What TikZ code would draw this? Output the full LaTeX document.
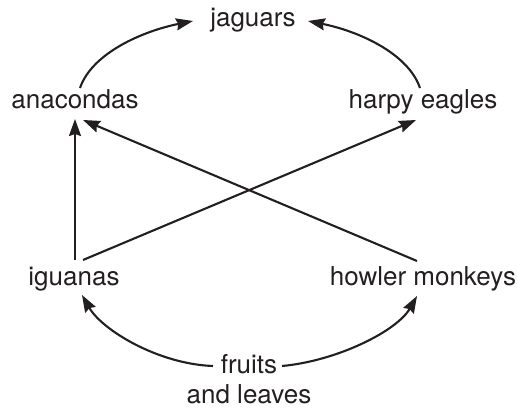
\documentclass[tikz,border=0pt]{standalone}
\usepackage{fontspec}
\setmainfont{TeX Gyre Heros}
\usetikzlibrary{arrows.meta}
\definecolor{ink}{HTML}{231F20}
\tikzset{
  lbl/.style={inner sep=0pt, anchor=base, text=ink, font=\fontsize{26}{30}\selectfont},
  arr/.style={draw=ink, line width=2.1pt, -{Stealth[length=17pt,width=12pt,inset=2pt]}}
}
\begin{document}
\begin{tikzpicture}[x=1pt,y=-1pt]
\useasboundingbox (0,0) rectangle (517,412);
\node[lbl] (jag) at (253,27) {jaguars};
\node[lbl] (ana) at (75,108) {anacondas};
\node[lbl] (har) at (423,108) {harpy eagles};
\node[lbl] (igu) at (74,285) {iguanas};
\node[lbl] (how) at (423,285) {howler monkeys};
\node[lbl, align=center] (fru) at (249,403) {fruits\\and leaves};
% anacondas -> jaguars
\draw[arr] ([shift={(5,-20)}]ana.base) .. controls +(12,-35) and +(-50,10) .. ([shift={(-60,-6)}]jag.base);
% harpy eagles -> jaguars
\draw[arr] ([shift={(-3,-20)}]har.base) .. controls +(-12,-35) and +(50,10) .. ([shift={(55,-6)}]jag.base);
% iguanas -> anacondas
\draw[arr] ([shift={(1,-25)}]igu.base) -- ([shift={(0,11)}]ana.base);
% iguanas -> harpy eagles
\draw[arr] ([shift={(9,-25)}]igu.base) -- ([shift={(-7,12)}]har.base);
% howler monkeys -> anacondas
\draw[arr] ([shift={(-6,-24)}]how.base) -- ([shift={(8,12)}]ana.base);
% fruits -> iguanas
\draw[arr] ([shift={(-36,-37)}]fru.base) .. controls +(-55,-2) and +(20,35) .. ([shift={(8,10)}]igu.base);
% fruits -> howler monkeys
\draw[arr] ([shift={(33,-37)}]fru.base) .. controls +(55,-5) and +(-20,35) .. ([shift={(-6,11)}]how.base);
\end{tikzpicture}
\end{document}
